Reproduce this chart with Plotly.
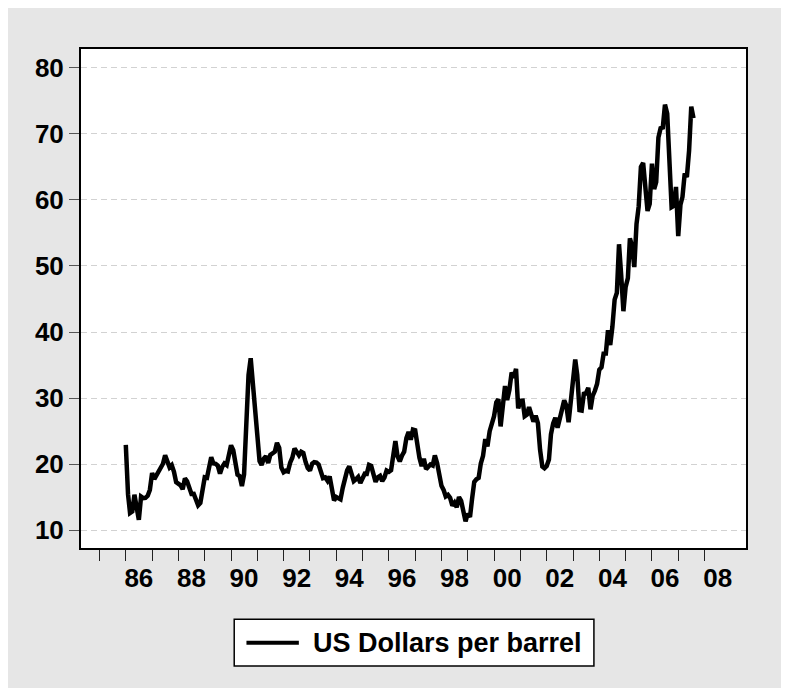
import pandas as pd
import plotly.graph_objects as go

# Monthly WTI spot price, US dollars per barrel (Jan 1986 - Aug 2007)
p1986 = [22.93, 15.46, 12.61, 12.84, 15.38, 13.43, 11.59, 15.10, 14.87, 14.90, 15.22, 16.11]
p1987 = [18.65, 17.75, 18.30, 18.68, 19.44, 20.07, 21.34, 20.31, 19.53, 19.86, 18.85, 17.28]
p1988 = [17.13, 16.80, 16.20, 17.86, 17.42, 16.53, 15.50, 15.52, 14.54, 13.77, 14.14, 16.38]
p1989 = [18.02, 17.94, 19.48, 21.07, 20.12, 20.05, 19.78, 18.58, 19.59, 20.10, 19.86, 21.10]
p1990 = [22.86, 22.11, 20.39, 18.43, 18.20, 16.70, 18.45, 27.31, 33.51, 36.04, 32.33, 27.28]
p1991 = [25.23, 20.48, 19.90, 20.83, 21.23, 20.19, 21.40, 21.69, 21.89, 23.23, 22.46, 19.50]
p1992 = [18.79, 19.01, 18.92, 20.23, 20.98, 22.39, 21.78, 21.34, 21.88, 21.69, 20.34, 19.41]
p1993 = [19.03, 20.09, 20.32, 20.25, 19.95, 19.09, 17.89, 18.01, 17.50, 18.15, 16.61, 14.52]
p1994 = [15.03, 14.78, 14.68, 16.42, 17.89, 19.06, 19.66, 18.38, 17.45, 17.72, 18.07, 17.16]
p1995 = [18.04, 18.57, 18.54, 19.90, 19.74, 18.45, 17.33, 18.02, 18.23, 17.43, 17.99, 19.03]
p1996 = [18.85, 19.09, 21.33, 23.50, 21.17, 20.42, 21.30, 21.90, 23.97, 24.88, 23.71, 25.23]
p1997 = [25.13, 22.18, 20.97, 19.70, 20.82, 19.26, 19.66, 19.95, 19.80, 21.33, 20.19, 18.33]
p1998 = [16.72, 16.06, 15.12, 15.35, 14.91, 13.72, 14.17, 13.47, 15.03, 14.46, 13.00, 11.35]
p1999 = [12.52, 12.01, 14.68, 17.31, 17.72, 17.92, 20.10, 21.28, 23.80, 22.69, 25.00, 26.10]
p2000 = [27.26, 29.37, 29.84, 25.72, 28.79, 31.82, 29.70, 31.26, 33.88, 33.11, 34.42, 28.44]
p2001 = [29.59, 29.61, 27.25, 27.49, 28.63, 27.60, 26.43, 27.37, 26.20, 22.17, 19.64, 19.39]
p2002 = [19.72, 20.72, 24.53, 26.18, 27.04, 25.52, 26.97, 28.39, 29.66, 28.84, 26.35, 29.46]
p2003 = [32.95, 35.83, 33.51, 28.17, 28.11, 30.66, 30.76, 31.57, 28.31, 30.34, 31.11, 32.13]
p2004 = [34.31, 34.69, 36.74, 36.75, 40.28, 38.03, 40.78, 44.90, 45.94, 53.28, 48.47, 43.15]
p2005 = [46.84, 48.15, 54.19, 52.98, 49.83, 56.35, 59.00, 64.99, 65.59, 62.26, 58.32, 59.41]
p2006 = [65.49, 61.63, 62.69, 69.44, 70.84, 70.95, 74.41, 73.04, 63.80, 58.89, 59.08, 61.96]
p2007 = [54.51, 59.28, 60.44, 63.98, 63.46, 67.49, 74.12, 72.36]

series_name = "US Dollars per barrel"
year_ticks = list(range(1985, 2009))
label_years = list(range(1986, 2009, 2))
label_text = ["%02d" % (y % 100) for y in label_years]
y_ticks = [10, 20, 30, 40, 50, 60, 70, 80]

prices = (p1986 + p1987 + p1988 + p1989 + p1990 + p1991 + p1992 + p1993 + p1994 + p1995
          + p1996 + p1997 + p1998 + p1999 + p2000 + p2001 + p2002 + p2003 + p2004 + p2005
          + p2006 + p2007)
dates = pd.date_range("1986-01-01", periods=len(prices), freq="MS")

FONT = "Arial, Liberation Sans, sans-serif"
GRAY = "#E6E6E6"
xrange_ = ["1984-04-19", "2009-07-30"]

fig = go.Figure()
fig.add_trace(go.Scatter(x=dates, y=prices, mode="lines", name=series_name,
                         line=dict(color="black", width=4.5), showlegend=False))
# helper trace so the label axis is drawn
fig.add_trace(go.Scatter(x=[], y=[], xaxis="x2", showlegend=False, hoverinfo="skip"))

fig.update_layout(
    width=789, height=688, autosize=False,
    margin=dict(l=73, r=50.5, t=41, b=148),
    paper_bgcolor=GRAY, plot_bgcolor="white",
    font=dict(family=FONT, size=26, color="black", weight="bold"),
    xaxis=dict(type="date", range=xrange_, tickmode="array",
               tickvals=[pd.Timestamp(f"{y}-01-01") for y in year_ticks],
               ticktext=["" for _ in year_ticks],
               ticks="outside", ticklen=11, tickwidth=1, tickcolor="#222",
               showline=True, linecolor="black", linewidth=2, mirror=True,
               showgrid=False, zeroline=False),
    xaxis2=dict(type="date", overlaying="x", anchor="y", side="bottom",
                range=xrange_, tickmode="array",
                tickvals=[pd.Timestamp(f"{y}-07-01") for y in label_years],
                ticktext=label_text, ticks="outside", ticklen=7,
                tickcolor="rgba(0,0,0,0)",
                tickfont=dict(family=FONT, size=26, color="black", weight="bold"),
                showline=False, showgrid=False, zeroline=False),
    yaxis=dict(range=[7.32, 82.83], tickmode="array", tickvals=y_ticks,
               ticks="outside", ticklen=10, tickwidth=1, tickcolor="#555",
               tickfont=dict(family=FONT, size=26, color="black", weight="bold"),
               showline=True, linecolor="black", linewidth=2, mirror=True,
               showgrid=True, gridcolor="#D2D2D2", gridwidth=1, griddash="6px,4px",
               zeroline=False),
    shapes=[
        # legend box
        dict(type="rect", xref="paper", yref="paper", x0=0.2304, x1=0.7713,
             y0=-0.2365, y1=-0.1429, fillcolor="white",
             line=dict(color="black", width=1.5)),
        dict(type="line", xref="paper", yref="paper", x0=0.2488, x1=0.3276,
             y0=-0.1900, y1=-0.1900, line=dict(color="black", width=4)),
    ],
    annotations=[
        dict(text=series_name, xref="paper", yref="paper", x=0.3456, y=-0.1900,
             xanchor="left", yanchor="middle", showarrow=False,
             font=dict(family=FONT, size=27, color="black", weight="bold")),
    ],
)

fig.write_html("out.html")
